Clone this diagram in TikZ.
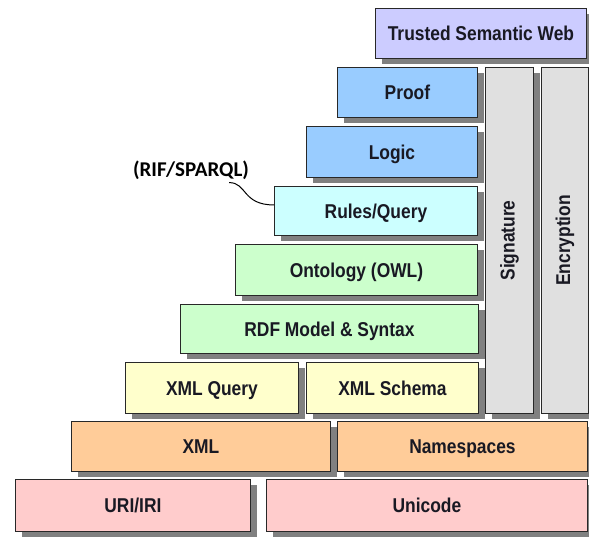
\documentclass[tikz,border=0pt]{standalone}
\usepackage{fontspec}
\setmainfont[FakeStretch=0.87]{Liberation Sans}
\newfontfamily\calloutfont{Carlito}
\usetikzlibrary{shadows}
\definecolor{cTrust}{RGB}{204,204,255}
\definecolor{cBlue}{RGB}{153,204,255}
\definecolor{cCyan}{RGB}{204,255,255}
\definecolor{cGreen}{RGB}{204,255,204}
\definecolor{cYellow}{RGB}{255,255,204}
\definecolor{cOrange}{RGB}{255,204,153}
\definecolor{cPink}{RGB}{255,204,204}
\definecolor{cGray}{RGB}{224,224,224}
\definecolor{cShadow}{RGB}{128,128,128}
\definecolor{cLine}{RGB}{40,40,40}
\definecolor{cText}{RGB}{25,25,35}
\tikzset{
  layerbase/.style={draw=cLine, line width=0.9pt, anchor=north west, inner sep=0pt,
    text=cText, font=\fontsize{20}{24}\selectfont\bfseries,
    drop shadow={shadow xshift=7pt, shadow yshift=-6pt, fill=cShadow, opacity=1}},
  layer/.style={layerbase, text height=14.3pt, text depth=0pt},
  vlayer/.style={layerbase},
  callout/.style={font=\fontsize{21}{25}\calloutfont\bfseries, text=black, inner sep=0pt}
}
\newcommand{\lbox}[7]{% name, x, y, w, h, color, text
  \node[layer, fill=#6, minimum width=#4pt, minimum height=#5pt] (#1) at (#2,#3) {#7};}
\begin{document}
\begin{tikzpicture}[x=1pt, y=-1pt]
\useasboundingbox (0,0) rectangle (589,538);
\lbox{trusted}{375}{8}{211}{50}{cTrust}{Trusted Semantic Web}
\lbox{proof}{337}{67}{140}{50}{cBlue}{Proof}
\lbox{logic}{306}{126}{171}{51}{cBlue}{Logic}
\lbox{rules}{274}{186}{203}{49}{cCyan}{Rules/Query}
\lbox{onto}{235}{244}{242}{51}{cGreen}{Ontology (OWL)}
\lbox{rdf}{180}{304}{298}{49}{cGreen}{RDF Model \& Syntax}
\lbox{xmlq}{125}{362}{173}{51}{cYellow}{XML Query}
\lbox{xmls}{306}{362}{172}{51}{cYellow}{XML Schema}
\lbox{xml}{71}{421}{259}{50}{cOrange}{XML}
\lbox{ns}{337}{421}{250}{50}{cOrange}{Namespaces}
\lbox{uri}{15}{479}{235}{52}{cPink}{URI/IRI}
\lbox{unicode}{266}{479}{321}{52}{cPink}{Unicode}
\node[vlayer, fill=cGray, minimum width=48pt, minimum height=346pt] (sig) at (485,67) {\rotatebox{90}{Signature}};
\node[vlayer, fill=cGray, minimum width=47pt, minimum height=346pt] (enc) at (541,67) {\rotatebox{90}{Encryption}};
\node[callout] (rif) at (191,170) {(RIF/SPARQL)};
\draw[line width=1pt] ([xshift=-20pt,yshift=-3pt]rif.south east)
  .. controls +(18,0) and +(-32,0) .. ([yshift=6pt]rules.west);
\end{tikzpicture}
\end{document}
